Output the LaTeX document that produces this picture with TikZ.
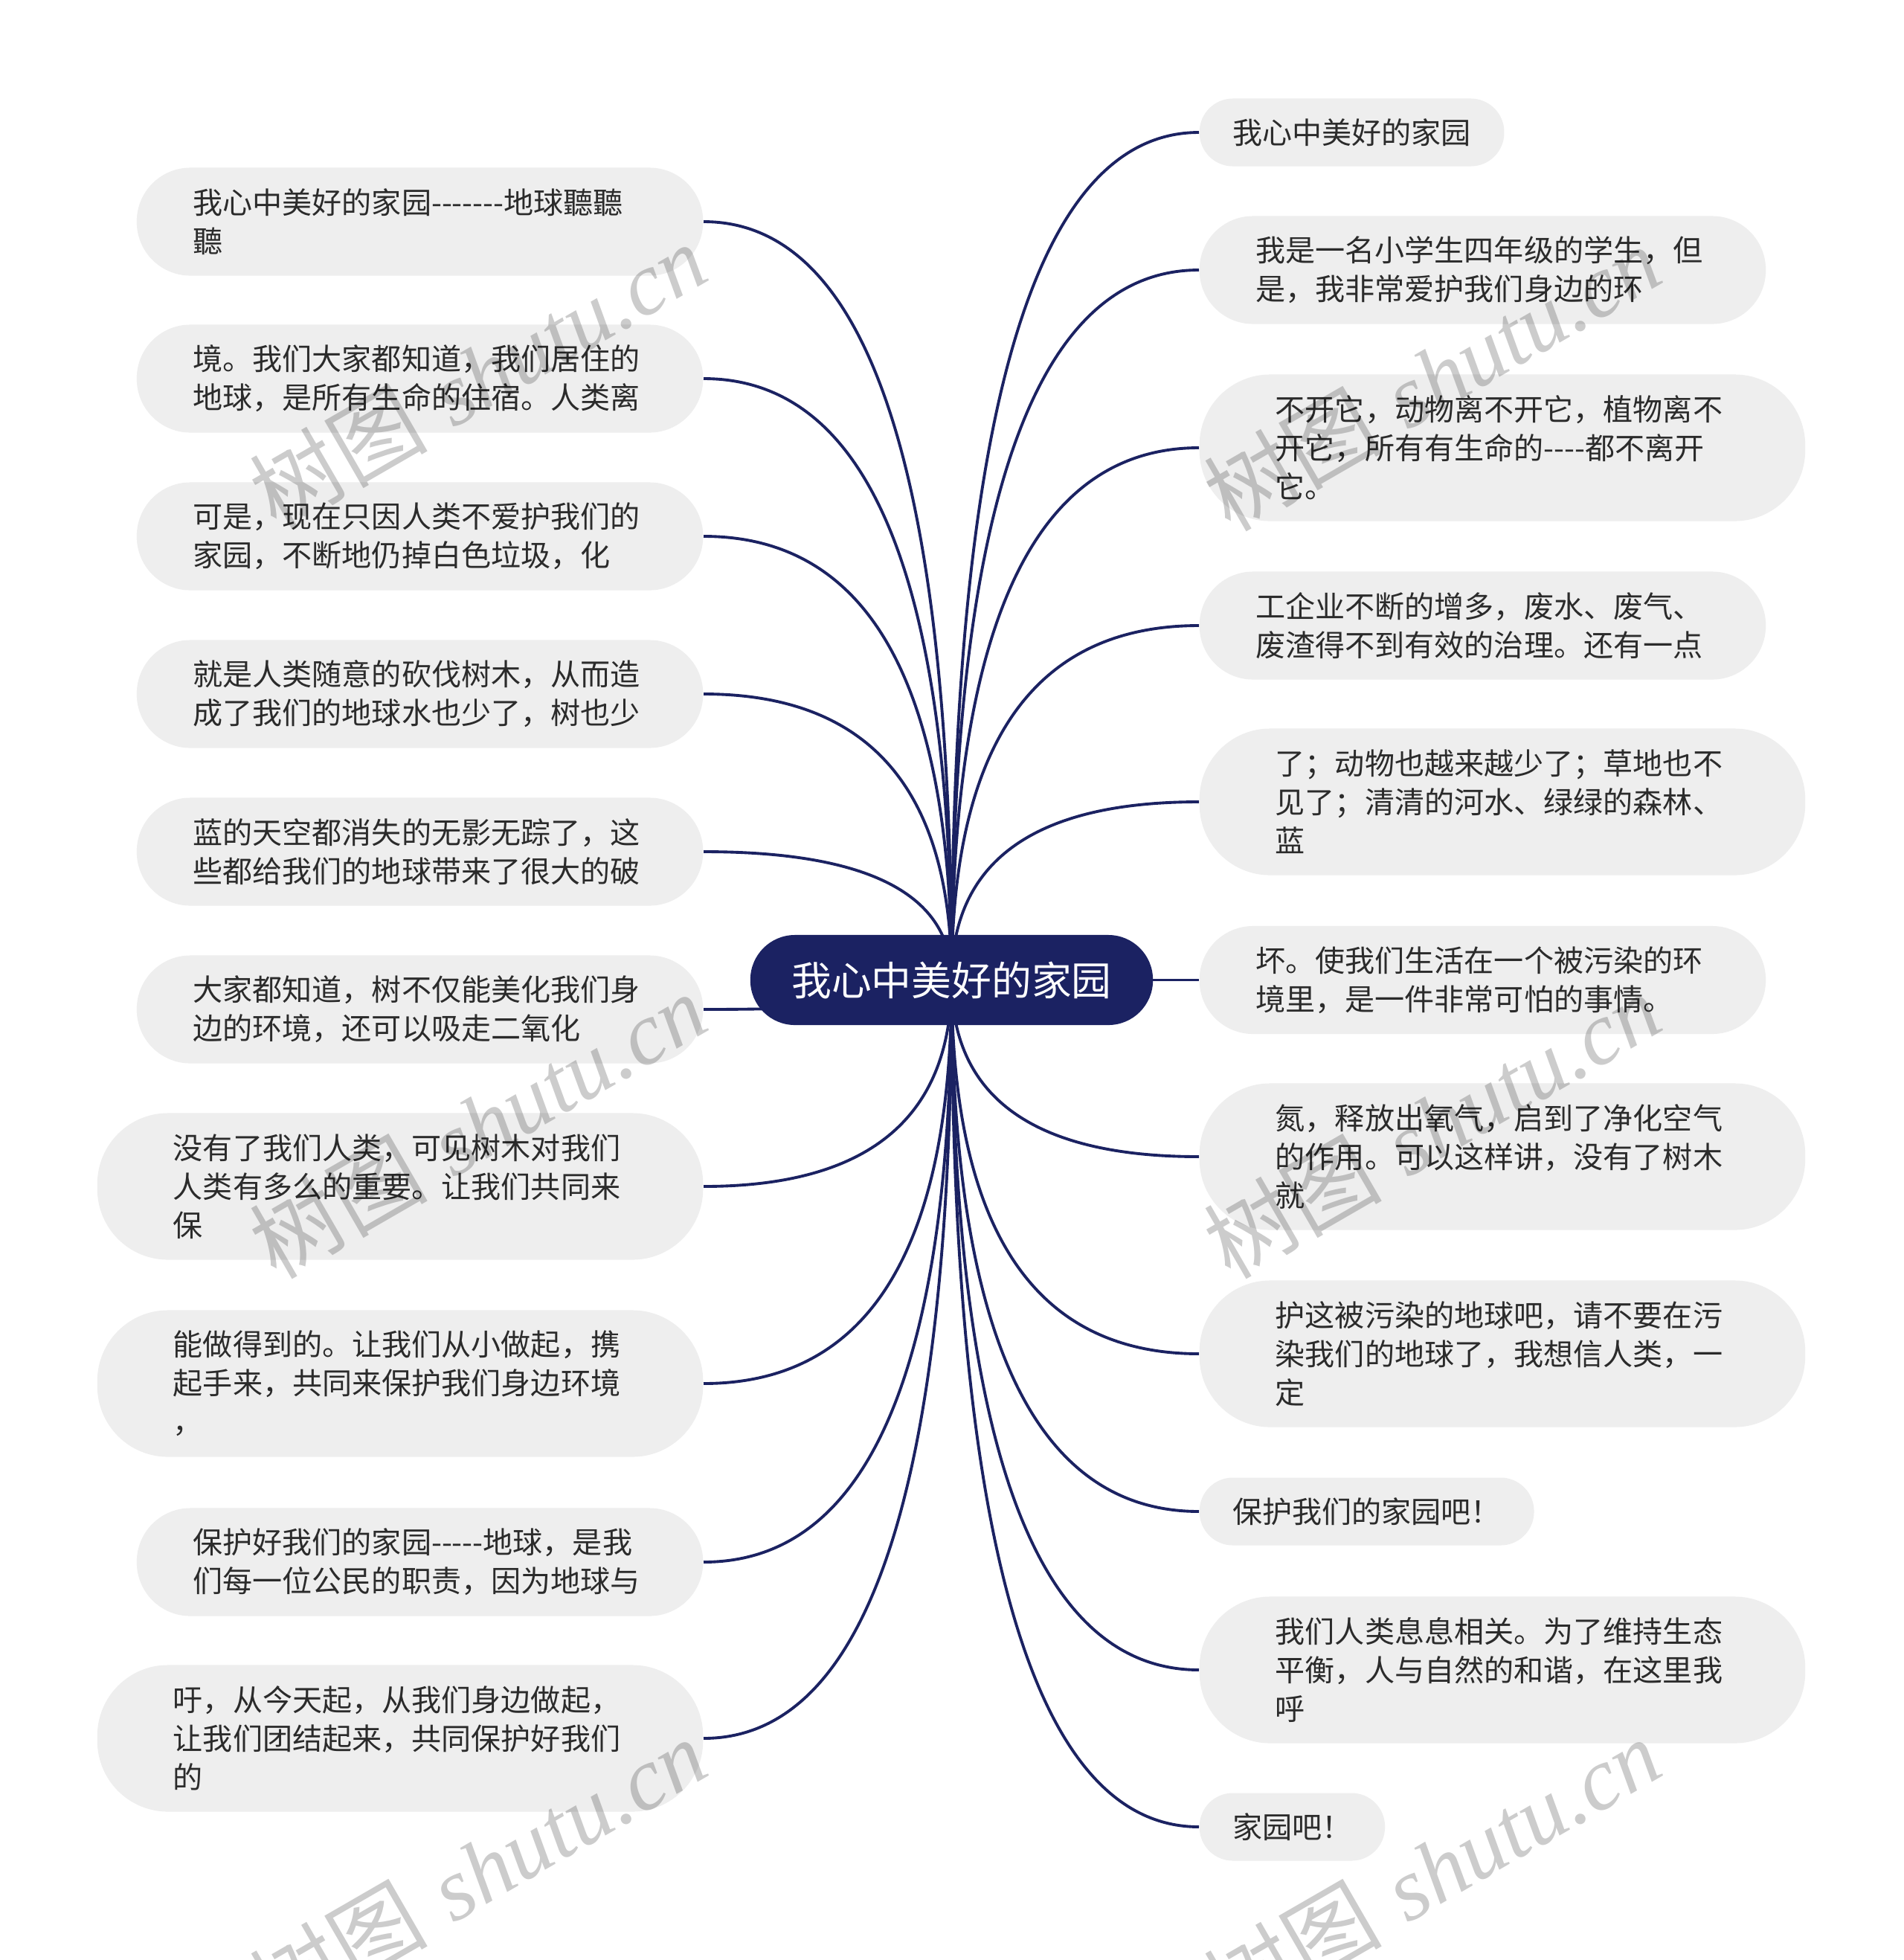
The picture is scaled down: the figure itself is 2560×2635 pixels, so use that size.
\documentclass[tikz,border=0pt]{standalone}
\usepackage{fontspec}
\usetikzlibrary{calc}
\newfontfamily\cjk{Noto Sans CJK SC}
\newfontfamily\wmlatin{Liberation Serif}
\definecolor{navy}{HTML}{1B2262}
\definecolor{leafgray}{HTML}{EEEEEE}
\definecolor{leaftext}{HTML}{2B2B2B}
\pgfdeclarelayer{bg}
\pgfsetlayers{bg,main}
\newcommand{\linkto}[1]{\draw[connline] (root.center) .. controls ($(root.center)!0.6667!(root.center |- #1)$) and ($(#1)!0.6667!(root.center |- #1)$) .. (#1);}
\tikzset{
  leafbase/.style={fill=leafgray, text=leaftext, inner ysep=0pt, align=left,
    font=\cjk\fontsize{11.4pt}{14.8pt}\selectfont},
  leaftwo/.style={leafbase, text width=6.1cm, inner xsep=0.755cm, minimum height=1.45cm, rounded corners=0.72cm},
  leafthree/.style={leafbase, text width=6.1cm, inner xsep=1.02cm, minimum height=1.97cm, rounded corners=0.95cm},
  leafone/.style={leafbase, inner xsep=0.445cm, minimum height=0.91cm, rounded corners=0.45cm},
  rootbox/.style={fill=navy, text=white, minimum width=5.41cm, minimum height=1.21cm, rounded corners=0.6cm, inner sep=0pt,
    font=\cjk\fontsize{15.3pt}{18pt}\selectfont},
  connline/.style={draw=navy, line width=1.1pt},
  wmark/.style={text=black, opacity=0.2, rotate=30, inner sep=0pt, font=\fontsize{34pt}{40pt}\selectfont}
}
\begin{document}
\begin{tikzpicture}[x=0.01cm, y=-0.01cm]
\useasboundingbox (0,0) rectangle (2560,2635);
% root
\node[rootbox] (root) at (1279.5,1317.5) {我心中美好的家园};
% left nodes
\node[leaftwo, anchor=east] (L1) at (946,298) {我心中美好的家园-------地球聽聽\\聽};
\node[leaftwo, anchor=east] (L2) at (946,509) {境。我们大家都知道，我们居住的\\地球，是所有生命的住宿。人类离};
\node[leaftwo, anchor=east] (L3) at (946,721) {可是，现在只因人类不爱护我们的\\家园，不断地仍掉白色垃圾，化};
\node[leaftwo, anchor=east] (L4) at (946,933) {就是人类随意的砍伐树木，从而造\\成了我们的地球水也少了，树也少};
\node[leaftwo, anchor=east] (L5) at (946,1145) {蓝的天空都消失的无影无踪了，这\\些都给我们的地球带来了很大的破};
\node[leaftwo, anchor=east] (L6) at (946,1357) {大家都知道，树不仅能美化我们身\\边的环境，还可以吸走二氧化};
\node[leafthree, anchor=east] (L7) at (946,1595) {没有了我们人类，可见树木对我们\\人类有多么的重要。让我们共同来\\保};
\node[leafthree, anchor=east] (L8) at (946,1860) {能做得到的。让我们从小做起，携\\起手来，共同来保护我们身边环境\\，};
\node[leaftwo, anchor=east] (L9) at (946,2100) {保护好我们的家园-----地球，是我\\们每一位公民的职责，因为地球与};
\node[leafthree, anchor=east] (L10) at (946,2337) {吁，从今天起，从我们身边做起，\\让我们团结起来，共同保护好我们\\的};
% right nodes
\node[leafone, anchor=west] (R1) at (1612,178) {我心中美好的家园};
\node[leaftwo, anchor=west] (R2) at (1612,363) {我是一名小学生四年级的学生，但\\是，我非常爱护我们身边的环};
\node[leafthree, anchor=west] (R3) at (1612,602) {不开它，动物离不开它，植物离不\\开它，所有有生命的----都不离开\\它。};
\node[leaftwo, anchor=west] (R4) at (1612,841) {工企业不断的增多，废水、废气、\\废渣得不到有效的治理。还有一点};
\node[leafthree, anchor=west] (R5) at (1612,1078) {了；动物也越来越少了；草地也不\\见了；清清的河水、绿绿的森林、\\蓝};
\node[leaftwo, anchor=west] (R6) at (1612,1317.5) {坏。使我们生活在一个被污染的环\\境里，是一件非常可怕的事情。};
\node[leafthree, anchor=west] (R7) at (1612,1555) {氮，释放出氧气，启到了净化空气\\的作用。可以这样讲，没有了树木\\就};
\node[leafthree, anchor=west] (R8) at (1612,1820) {护这被污染的地球吧，请不要在污\\染我们的地球了，我想信人类，一\\定};
\node[leafone, anchor=west] (R9) at (1612,2032) {保护我们的家园吧！};
\node[leafthree, anchor=west] (R10) at (1612,2245) {我们人类息息相关。为了维持生态\\平衡，人与自然的和谐，在这里我\\呼};
\node[leafone, anchor=west] (R11) at (1612,2456) {家园吧！};
% connectors
\begin{pgfonlayer}{bg}
\fill[white] (0,0) rectangle (2560,2635);
\linkto{L1.east}
\linkto{L2.east}
\linkto{L3.east}
\linkto{L4.east}
\linkto{L5.east}
\linkto{L6.east}
\linkto{L7.east}
\linkto{L8.east}
\linkto{L9.east}
\linkto{L10.east}
\linkto{R1.west}
\linkto{R2.west}
\linkto{R3.west}
\linkto{R4.west}
\linkto{R5.west}
\draw[connline] (root.center) -- (R6.west);
\linkto{R7.west}
\linkto{R8.west}
\linkto{R9.west}
\linkto{R10.west}
\linkto{R11.west}
\end{pgfonlayer}
% watermarks
\node[wmark] (w1) at (642,505) {{\cjk 树图} {\wmlatin\itshape shutu.cn}};
\node[wmark] (w2) at (1925,508) {{\cjk 树图} {\wmlatin\itshape shutu.cn}};
\node[wmark] (w3) at (642,1513) {{\cjk 树图} {\wmlatin\itshape shutu.cn}};
\node[wmark] (w4) at (1925,1513) {{\cjk 树图} {\wmlatin\itshape shutu.cn}};
\node[wmark] (w5) at (642,2515) {{\cjk 树图} {\wmlatin\itshape shutu.cn}};
\node[wmark] (w6) at (1925,2515) {{\cjk 树图} {\wmlatin\itshape shutu.cn}};
\end{tikzpicture}
\end{document}
